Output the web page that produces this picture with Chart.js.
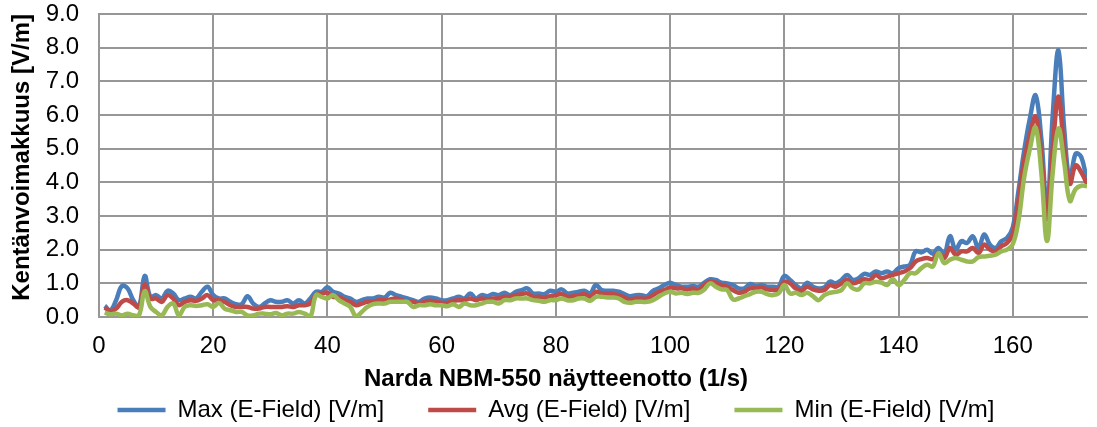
<!DOCTYPE html>
<html>
<head>
<meta charset="utf-8">
<script src="https://cdn.jsdelivr.net/npm/chart.js@4"></script>
<style>
  html, body { margin: 0; padding: 0; background: #fff; }
  #wrap { width: 1097px; height: 427px; }
</style>
</head>
<body>
<div id="wrap"><canvas id="chart"></canvas></div>
<script>
// sample values, one per second (sample 1..173)
let maxField = [
  0.33, 0.2, 0.5, 0.92, 0.85, 0.5, 0.3, 1.22, 0.6, 0.65,
  0.55, 0.78, 0.7, 0.5, 0.55, 0.6, 0.55, 0.75, 0.9, 0.65,
  0.55, 0.55, 0.45, 0.38, 0.38, 0.62, 0.4, 0.3, 0.4, 0.5,
  0.45, 0.45, 0.5, 0.4, 0.5, 0.4, 0.55, 0.75, 0.75, 0.88,
  0.75, 0.7, 0.6, 0.55, 0.45, 0.5, 0.55, 0.55, 0.6, 0.58,
  0.72, 0.65, 0.6, 0.55, 0.5, 0.45, 0.55, 0.58, 0.55, 0.5,
  0.5, 0.55, 0.6, 0.55, 0.7, 0.55, 0.65, 0.62, 0.68, 0.65,
  0.72, 0.65, 0.75, 0.8, 0.85, 0.7, 0.7, 0.68, 0.78, 0.75,
  0.82, 0.7, 0.72, 0.75, 0.78, 0.7, 0.95, 0.8, 0.78, 0.78,
  0.75, 0.68, 0.62, 0.65, 0.65, 0.62, 0.78, 0.85, 0.95, 1.02,
  0.95, 0.9, 0.9, 0.92, 0.9, 1.02, 1.12, 1.1, 1.02, 1.0,
  0.95, 0.85, 0.85, 0.98, 0.92, 0.95, 0.9, 0.9, 0.9, 1.22,
  1.1, 0.95, 0.85, 1.02, 0.9, 0.85, 0.88, 1.05, 1.0, 1.1,
  1.25, 1.1, 1.15, 1.28, 1.25, 1.35, 1.3, 1.35, 1.3, 1.45,
  1.5, 1.55, 1.95, 1.92, 2.0, 1.88, 2.05, 1.85, 2.4, 2.0,
  2.25, 2.2, 2.4, 2.05, 2.45, 2.15, 2.05, 2.25, 2.35, 2.66,
  3.75, 4.94, 5.9, 6.58, 5.3, 3.2, 6.0, 7.92, 5.6, 4.05,
  4.85, 4.75, 4.0
]
let avgField = [
  0.28, 0.18, 0.25, 0.45, 0.5, 0.4, 0.3, 0.97, 0.55, 0.55,
  0.45, 0.65, 0.55, 0.35, 0.45, 0.5, 0.48, 0.55, 0.65, 0.5,
  0.5, 0.45, 0.35, 0.3, 0.3, 0.3, 0.25, 0.25, 0.3, 0.3,
  0.3, 0.3, 0.32, 0.3, 0.35, 0.35, 0.4, 0.65, 0.7, 0.72,
  0.6, 0.6, 0.5, 0.45, 0.35, 0.4, 0.45, 0.45, 0.5, 0.5,
  0.52, 0.55, 0.5, 0.45, 0.45, 0.4, 0.45, 0.48, 0.45, 0.42,
  0.42, 0.48, 0.5, 0.5, 0.55, 0.5, 0.55, 0.52, 0.55, 0.55,
  0.6, 0.6, 0.65, 0.68, 0.7, 0.6, 0.6, 0.58, 0.62, 0.65,
  0.68, 0.6, 0.62, 0.65, 0.68, 0.6, 0.75, 0.7, 0.7, 0.68,
  0.65, 0.58, 0.52, 0.55, 0.55, 0.55, 0.65, 0.75, 0.8, 0.88,
  0.85, 0.85, 0.82, 0.85, 0.8, 0.95, 1.05, 1.02, 0.95, 0.9,
  0.8, 0.72, 0.75, 0.85, 0.85, 0.88, 0.82, 0.8, 0.82, 1.05,
  1.0, 0.85, 0.78, 0.9, 0.82, 0.78, 0.8, 0.95, 0.9, 1.0,
  1.1, 1.0, 1.05, 1.12, 1.1, 1.25, 1.15, 1.2, 1.25, 1.3,
  1.35, 1.45, 1.65, 1.72, 1.75, 1.72, 1.9, 1.75, 2.05, 1.85,
  1.95, 1.95, 2.05, 1.9, 2.15, 2.0, 1.95, 2.1, 2.2, 2.46,
  3.45, 4.64, 5.4, 5.95, 4.8, 2.9, 5.0, 6.55, 5.0, 3.96,
  4.5, 4.3, 3.95
]
let minField = [
  0.13, 0.08, 0.1, 0.05, 0.1, 0.05, 0.05, 0.77, 0.3, 0.15,
  0.05, 0.3, 0.4, 0.05, 0.3, 0.35, 0.33, 0.35, 0.38, 0.3,
  0.42, 0.25, 0.2, 0.15, 0.15, 0.05, 0.05, 0.1, 0.1, 0.08,
  0.12, 0.05, 0.1, 0.1, 0.15, 0.1, 0.0, 0.65, 0.6, 0.55,
  0.65, 0.5, 0.4, 0.3, 0.02, 0.15, 0.3, 0.38, 0.4, 0.4,
  0.45, 0.45, 0.45, 0.45, 0.3, 0.35, 0.35, 0.38, 0.35, 0.35,
  0.32, 0.38, 0.3, 0.4, 0.35, 0.35, 0.4, 0.45, 0.45, 0.4,
  0.5, 0.5, 0.55, 0.55, 0.55, 0.5, 0.48, 0.45, 0.5, 0.5,
  0.55, 0.5, 0.5, 0.55, 0.55, 0.48, 0.6, 0.6, 0.58, 0.58,
  0.55, 0.45, 0.42, 0.45, 0.45, 0.45, 0.5, 0.6, 0.7, 0.75,
  0.7, 0.72, 0.68, 0.72, 0.72, 0.82, 1.0, 0.9, 0.82, 0.8,
  0.52, 0.55, 0.62, 0.68, 0.75, 0.75, 0.68, 0.65, 0.7, 0.95,
  0.7, 0.72, 0.65, 0.72, 0.62, 0.5, 0.65, 0.72, 0.75, 0.8,
  1.0, 0.85, 0.82, 1.0, 1.0, 1.05, 1.02, 0.95, 1.12, 0.95,
  1.1, 1.3, 1.3, 1.45, 1.55, 1.5, 1.9, 1.6, 1.7, 1.75,
  1.7, 1.65, 1.65, 1.78, 1.8, 1.82, 1.85, 1.95, 2.0, 2.16,
  2.86, 4.15, 5.0, 5.63, 4.3, 2.26, 4.3, 5.6, 4.6, 3.45,
  3.8, 3.9, 3.88
]

let seriesNames = ['Max (E-Field) [V/m]', 'Avg (E-Field) [V/m]', 'Min (E-Field) [V/m]']
let seriesColours = ['#4a7ebb', '#be4b48', '#98b954']
let xTitle = 'Narda NBM-550 näytteenotto (1/s)'
let yTitle = 'Kentänvoimakkuus [V/m]'

let font = 'Liberation Sans, Arial, sans-serif'
let gridColour = '#979797'

function toPoints(values) {
  return values.map((v, i) => ({x: i + 1, y: v}))
}

let allSeries = [maxField, avgField, minField]
let datasets = []
for (let i = 0; i < allSeries.length; ++i) {
  datasets.push({
    label: seriesNames[i],
    data: toPoints(allSeries[i]),
    borderColor: seriesColours[i],
    backgroundColor: seriesColours[i],
    borderWidth: 4.5,
    pointRadius: 0,
    tension: 0.4,
    fill: false,
    order: 3 - i, // Min drawn on top, like in the original
  })
}

Chart.defaults.font.family = font
Chart.defaults.color = '#000'

new Chart(document.getElementById('chart'), {
  type: 'line',
  data: {datasets: datasets},
  options: {
    responsive: true,
    maintainAspectRatio: false,
    animation: false,
    // left padding only nudges the centred legend/x title to the right
    layout: {padding: {top: 14, right: 10, left: 25, bottom: -8}},
    scales: {
      x: {
        type: 'linear',
        min: 0,
        max: 173,
        afterFit: s => { s.height = 40 },
        ticks: {stepSize: 20, includeBounds: false, padding: 15, font: {size: 24}},
        grid: {color: gridColour, lineWidth: 2, drawTicks: false},
        border: {color: gridColour, width: 2},
      },
      y: {
        min: 0,
        max: 9,
        afterFit: s => {
          s.width = 74
          s.paddingTop = 0
          s.paddingBottom = 0
        },
        ticks: {stepSize: 1, padding: 20, font: {size: 24}, callback: v => v.toFixed(1)},
        grid: {color: gridColour, lineWidth: 2, drawTicks: false},
        border: {color: gridColour, width: 2},
        title: {
          display: true,
          text: yTitle,
          align: 'end',
          font: {size: 24, weight: 'bold'},
          padding: {top: -17, bottom: 0},
        },
      },
    },
    plugins: {
      tooltip: {enabled: false},
      // x axis title, centred on the whole chart as in the original
      title: {
        display: true,
        text: xTitle,
        position: 'bottom',
        weight: 500,
        font: {size: 24, weight: 'bold'},
        padding: {top: 7.6, bottom: -39.4},
      },
      legend: {
        position: 'bottom',
        labels: {
          usePointStyle: true,
          pointStyle: 'line',
          pointStyleWidth: 48,
          padding: 44,
          font: {size: 24},
          sort: (a, b) => a.datasetIndex - b.datasetIndex,
        },
      },
    },
  },
})
</script>
</body>
</html>
